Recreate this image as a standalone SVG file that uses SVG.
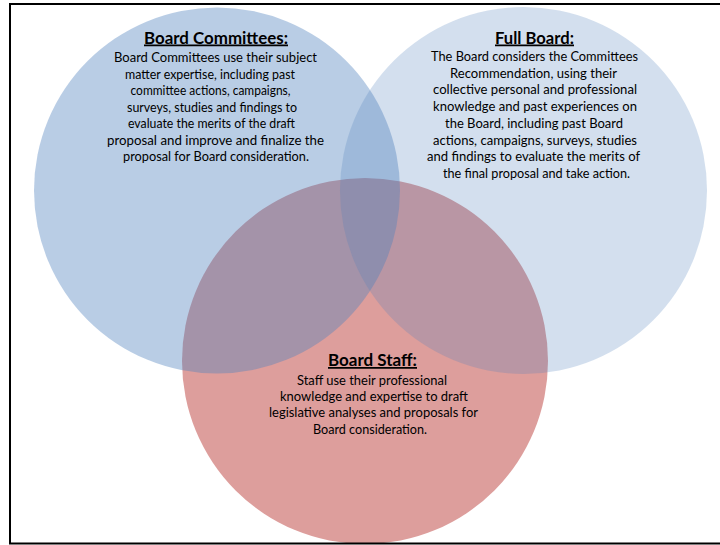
<svg xmlns="http://www.w3.org/2000/svg" width="720" height="545" viewBox="0 0 720 545">
<style>
text{font-family:Lato,"Open Sans","Liberation Sans",sans-serif;fill:#000;text-anchor:middle}
.t{font-size:17.5px;font-weight:bold;text-decoration:underline}
.b{font-size:14px}
</style>
<rect x="0" y="0" width="720" height="545" fill="#fff"/>
<g id="board-staff">
<circle cx="365" cy="361" r="183" fill="#DD9E9C"/>
<text class="t" x="372.5" y="366" textLength="89" lengthAdjust="spacingAndGlyphs">Board Staff:</text>
<text class="b" x="372" y="385" textLength="150" lengthAdjust="spacingAndGlyphs">Staff use their professional</text>
<text class="b" x="374" y="401.2" textLength="188" lengthAdjust="spacingAndGlyphs">knowledge and expertise to draft</text>
<text class="b" x="373.5" y="417.4" textLength="209" lengthAdjust="spacingAndGlyphs">legislative analyses and proposals for</text>
<text class="b" x="370" y="433.6" textLength="114" lengthAdjust="spacingAndGlyphs">Board consideration.</text>
</g>
<g id="board-committees">
<circle cx="217" cy="190.5" r="183" fill="#4F81BD" fill-opacity="0.4"/>
<text class="t" x="216" y="43.5" textLength="144" lengthAdjust="spacingAndGlyphs">Board Committees:</text>
<text class="b" x="215.5" y="62" textLength="203" lengthAdjust="spacingAndGlyphs">Board Committees use their subject</text>
<text class="b" x="210" y="78.5" textLength="170" lengthAdjust="spacingAndGlyphs">matter expertise, including past</text>
<text class="b" x="210.5" y="95" textLength="160" lengthAdjust="spacingAndGlyphs">committee actions, campaigns,</text>
<text class="b" x="212" y="111.5" textLength="170" lengthAdjust="spacingAndGlyphs">surveys, studies and findings to</text>
<text class="b" x="211.5" y="128" textLength="167" lengthAdjust="spacingAndGlyphs">evaluate the merits of the draft</text>
<text class="b" x="215.5" y="144.5" textLength="217" lengthAdjust="spacingAndGlyphs">proposal and improve and finalize the</text>
<text class="b" x="216" y="161" textLength="186" lengthAdjust="spacingAndGlyphs">proposal for Board consideration.</text>
</g>
<g id="full-board">
<circle cx="523.5" cy="190.5" r="183.5" fill="#4F81BD" fill-opacity="0.25"/>
<text class="t" x="534.5" y="43.5" textLength="79" lengthAdjust="spacingAndGlyphs">Full Board:</text>
<text class="b" x="534.5" y="61" textLength="207" lengthAdjust="spacingAndGlyphs">The Board considers the Committees</text>
<text class="b" x="533.5" y="77.7" textLength="167" lengthAdjust="spacingAndGlyphs">Recommendation, using their</text>
<text class="b" x="535" y="94.4" textLength="204" lengthAdjust="spacingAndGlyphs">collective personal and professional</text>
<text class="b" x="535" y="111.1" textLength="204" lengthAdjust="spacingAndGlyphs">knowledge and past experiences on</text>
<text class="b" x="534" y="127.8" textLength="178" lengthAdjust="spacingAndGlyphs">the Board, including past Board</text>
<text class="b" x="535" y="144.5" textLength="204" lengthAdjust="spacingAndGlyphs">actions, campaigns, surveys, studies</text>
<text class="b" x="533.5" y="161.2" textLength="213" lengthAdjust="spacingAndGlyphs">and findings to evaluate the merits of</text>
<text class="b" x="536.5" y="177.9" textLength="187" lengthAdjust="spacingAndGlyphs">the final proposal and take action.</text>
</g>
<g id="connectors"></g>
<path d="M720 4H10V543.5H720" fill="none" stroke="#000" stroke-width="2"/>
</svg>
